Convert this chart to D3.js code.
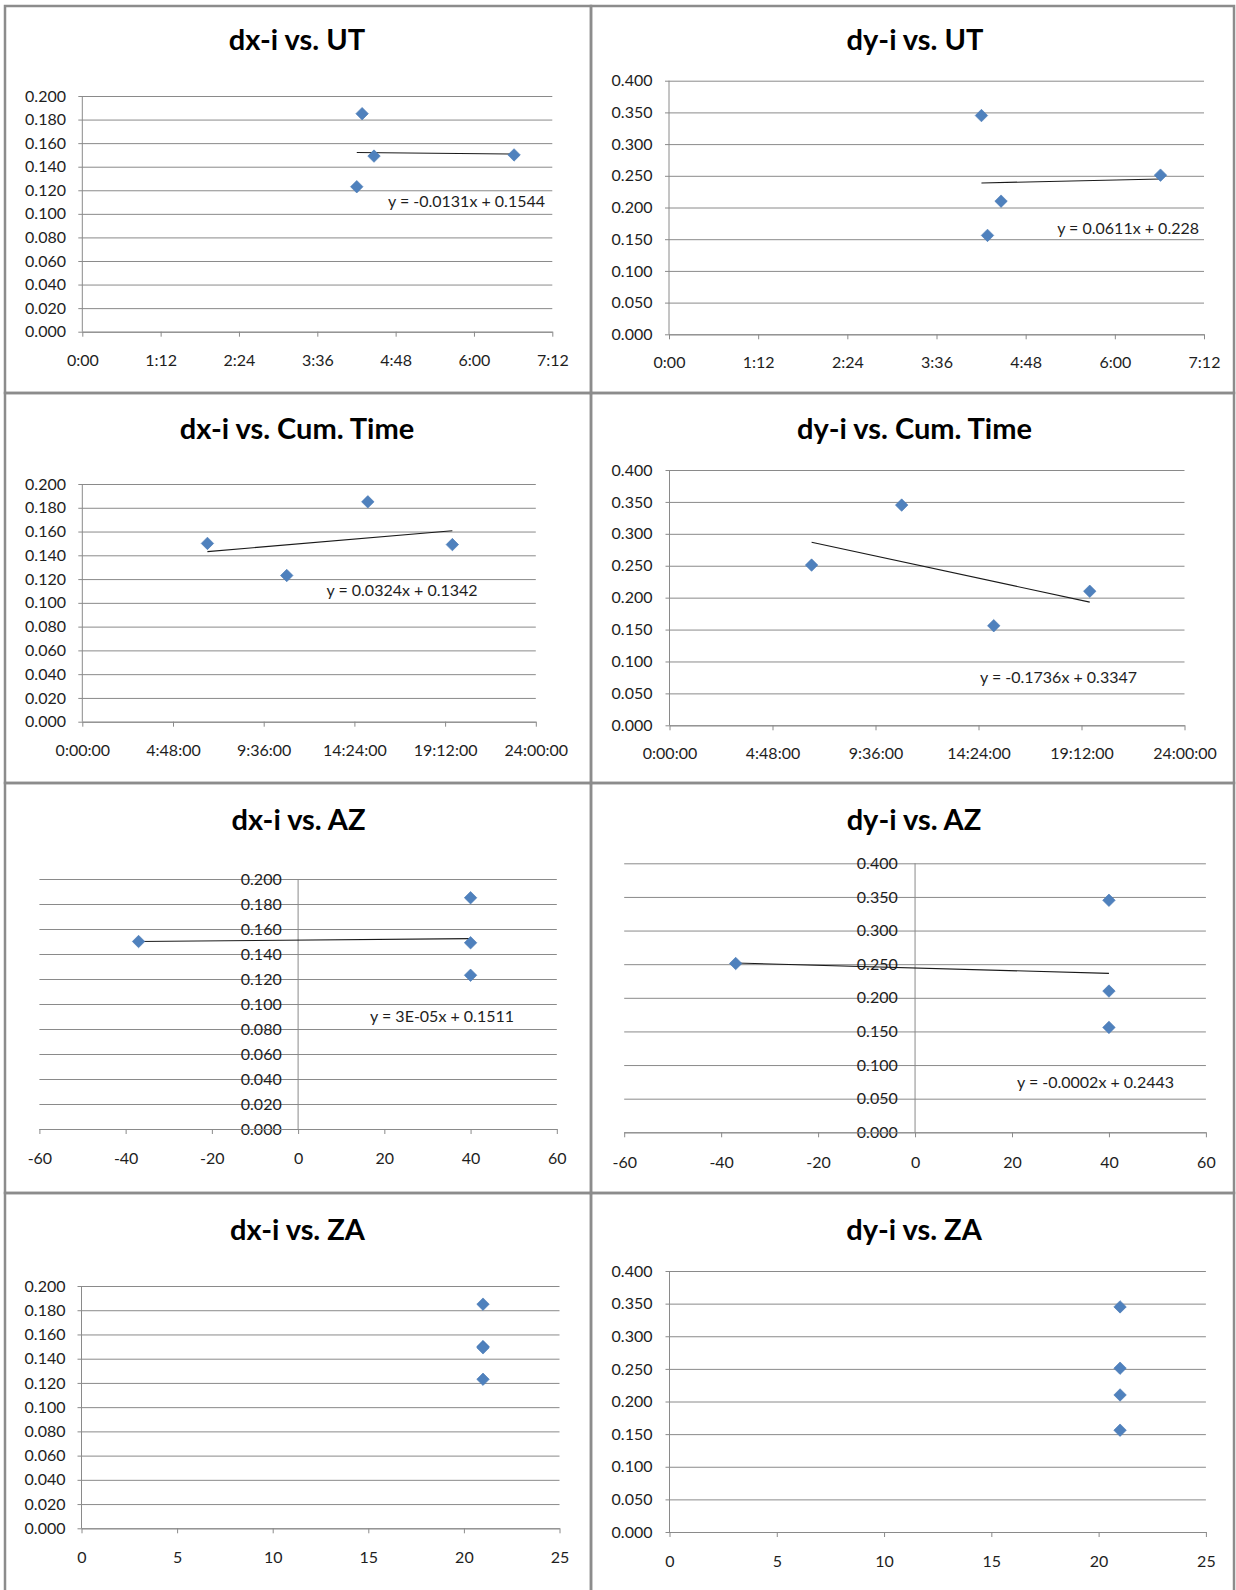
<!DOCTYPE html>
<html>
<head>
<meta charset="utf-8">
<script src="https://cdn.jsdelivr.net/npm/d3@7"></script>
<style>
	body { margin: 0; background: #fff; }
	text { font-family: Lato, "Open Sans", sans-serif; fill: #1e1e1e; }
	.title { font-weight: bold; font-size: 29px; fill: #000; }
	.tick text { font-size: 16px; }
	.eq { font-size: 16px; }
</style>
</head>
<body>
<div id="chart"></div>
<script>

// four observations, same order in every array
var utDays = [0.2756, 0.1752, 0.1786, 0.1862];
var cumDays = [0.2759, 0.4508, 0.6296, 0.8160];
var azDeg = [-37, 40, 40, 40];
var zaDeg = [21, 21, 21, 21];
var dxVals = [0.150, 0.123, 0.185, 0.149];
var dyVals = [0.251, 0.345, 0.156, 0.210];

var utTickValues = [0, 0.05, 0.1, 0.15, 0.2, 0.25, 0.3];
var utTickLabels = ["0:00", "1:12", "2:24", "3:36", "4:48", "6:00", "7:12"];
var cumTickValues = [0, 0.2, 0.4, 0.6, 0.8, 1.0];
var cumTickLabels = ["0:00:00", "4:48:00", "9:36:00", "14:24:00", "19:12:00", "24:00:00"];
var azTickValues = [-60, -40, -20, 0, 20, 40, 60];
var zaTickValues = [0, 5, 10, 15, 20, 25];
var dxTickValues = [0, 0.02, 0.04, 0.06, 0.08, 0.1, 0.12, 0.14, 0.16, 0.18, 0.2];
var dyTickValues = [0, 0.05, 0.1, 0.15, 0.2, 0.25, 0.3, 0.35, 0.4];

var titles = ["dx-i vs. UT", "dy-i vs. UT", "dx-i vs. Cum. Time", "dy-i vs. Cum. Time",
	"dx-i vs. AZ", "dy-i vs. AZ", "dx-i vs. ZA", "dy-i vs. ZA"];
var trendSlopes = [-0.0131, 0.0611, 0.0324, -0.1736, 0.00003, -0.0002, null, null];
var trendIntercepts = [0.1544, 0.228, 0.1342, 0.3347, 0.1511, 0.2443, null, null];
var trendLabels = ["y = -0.0131x + 0.1544", "y = 0.0611x + 0.228", "y = 0.0324x + 0.1342",
	"y = -0.1736x + 0.3347", "y = 3E-05x + 0.1511", "y = -0.0002x + 0.2443", null, null];

// which x / y series each panel uses
var xSets = [
	{vals: utDays, domain: [0, 0.3], ticks: utTickValues, labels: utTickLabels},
	{vals: cumDays, domain: [0, 1], ticks: cumTickValues, labels: cumTickLabels},
	{vals: azDeg, domain: [-60, 60], ticks: azTickValues, labels: null},
	{vals: zaDeg, domain: [0, 25], ticks: zaTickValues, labels: null}
];
var ySets = [
	{vals: dxVals, domain: [0, 0.2], ticks: dxTickValues},
	{vals: dyVals, domain: [0, 0.4], ticks: dyTickValues}
];

// page layout, one box per panel
var layout = [
	{cell: [5, 6, 591, 393], px: [82.3, 552.3], py: [331.7, 96], titleX: 297, titleY: 50, eqX: 545, eqY: 201, labX: 66, xLabY: 360},
	{cell: [591, 6, 1234, 393], px: [669, 1204], py: [334.3, 80.7], titleX: 915, titleY: 50, eqX: 1199, eqY: 228, labX: 652.5, xLabY: 362.5},
	{cell: [5, 393, 591, 783], px: [82.3, 535.8], py: [721.7, 484], titleX: 297, titleY: 439, eqX: 477.6, eqY: 590.7, labX: 66, xLabY: 750},
	{cell: [591, 393, 1234, 783], px: [669.5, 1184.5], py: [725.3, 470], titleX: 914.5, titleY: 439, eqX: 1137, eqY: 677.3, labX: 652.5, xLabY: 753.3},
	{cell: [5, 783, 591, 1193], px: [39.4, 556.8], py: [1129, 879], titleX: 298.5, titleY: 830, eqX: 514, eqY: 1016, labOff: 16.4, xLabY: 1158.3},
	{cell: [591, 783, 1234, 1193], px: [624.2, 1205.9], py: [1132.3, 863.3], titleX: 914, titleY: 830, eqX: 1174, eqY: 1082.3, labOff: 17.3, xLabY: 1162.7},
	{cell: [5, 1193, 591, 1610], px: [81.5, 559.5], py: [1528.3, 1286], titleX: 297.5, titleY: 1240, labX: 65.5, xLabY: 1557.3},
	{cell: [591, 1193, 1234, 1610], px: [669.5, 1205.9], py: [1532, 1271], titleX: 914, titleY: 1240, labX: 652.5, xLabY: 1561.7}
];

var gridColor = "#8a8a8a";
var markerColor = "#4F81BD";

var svg = d3.select('#chart')
	.append('svg')
	.attr('width', 1236)
	.attr('height', 1590);

svg.append('rect')
	.attr('width', 1236)
	.attr('height', 1590)
	.attr('fill', '#fff');

for (var i = 0; i < 8; i++) {
	drawPanel(i, xSets[Math.floor(i / 2)], ySets[i % 2], layout[i]);
}

function drawPanel(i, xs, ys, box) {
	var g = svg.append('g');
	var c = box.cell;

	g.append('rect')
		.attr('x', c[0])
		.attr('y', c[1])
		.attr('width', c[2] - c[0])
		.attr('height', c[3] - c[1])
		.attr('fill', 'none')
		.attr('stroke', '#8c8c8c')
		.attr('stroke-width', 2.5);

	g.append('text')
		.attr('class', 'title')
		.attr('x', box.titleX)
		.attr('y', box.titleY)
		.attr('text-anchor', 'middle')
		.text(titles[i]);

	var x = d3.scaleLinear().domain(xs.domain).range(box.px);
	var y = d3.scaleLinear().domain(ys.domain).range(box.py);

	// y axis sits at x = 0 when the x domain spans zero
	var crossing = xs.domain[0] < 0;
	var yAxisX = crossing ? x(0) : box.px[0];
	var gridStart = crossing ? box.px[0] : box.px[0] - 4;

	// gridlines
	var grid = g.append('g')
		.attr('transform', 'translate(' + gridStart + ',0)')
		.call(d3.axisLeft(y)
			.tickValues(ys.ticks)
			.tickSize(-(box.px[1] - gridStart))
			.tickFormat(''));
	grid.select('.domain').remove();
	grid.selectAll('line').attr('stroke', gridColor).attr('stroke-width', 1);

	// y tick labels
	var labX = crossing ? yAxisX - box.labOff : box.labX;
	var ylab = g.append('g')
		.attr('transform', 'translate(' + labX + ',0)')
		.call(d3.axisLeft(y)
			.tickValues(ys.ticks)
			.tickSize(0)
			.tickPadding(0)
			.tickFormat(d3.format('.3f')));
	ylab.select('.domain').remove();
	ylab.selectAll('text').attr('fill', '#1e1e1e');

	// y axis line
	g.append('line')
		.attr('x1', yAxisX)
		.attr('x2', yAxisX)
		.attr('y1', y(ys.domain[0]))
		.attr('y2', y(ys.domain[1]))
		.attr('stroke', gridColor);

	// x axis
	var xAxis = d3.axisBottom(x)
		.tickValues(xs.ticks)
		.tickSizeInner(5)
		.tickSizeOuter(0)
		.tickFormat(function(d, k) { return xs.labels ? xs.labels[k] : d; });
	var xg = g.append('g')
		.attr('transform', 'translate(0,' + y(0) + ')')
		.call(xAxis);
	xg.select('.domain').attr('stroke', gridColor);
	xg.selectAll('line').attr('stroke', gridColor);
	xg.selectAll('text')
		.attr('y', box.xLabY - y(0))
		.attr('dy', '0.35em')
		.attr('fill', '#1e1e1e');

	// trendline from smallest to largest x
	if (trendSlopes[i] !== null) {
		var ext = d3.extent(xs.vals);
		var line = d3.line()
			.x(function(d) { return x(d); })
			.y(function(d) { return y(trendSlopes[i] * d + trendIntercepts[i]); });
		g.append('path')
			.attr('d', line(ext))
			.attr('fill', 'none')
			.attr('stroke', '#1a1a1a')
			.attr('stroke-width', 1.1);
	}

	// markers
	var diamond = d3.symbol().type(d3.symbolSquare).size(78);
	g.selectAll('.pt')
		.data(xs.vals)
		.enter()
		.append('path')
		.attr('class', 'pt')
		.attr('d', diamond)
		.attr('transform', function(d, k) {
			return 'translate(' + x(d) + ',' + y(ys.vals[k]) + ') rotate(45)';
		})
		.attr('fill', markerColor)
		.attr('stroke', '#4a7ab5')
		.attr('stroke-width', 0.6);

	if (trendLabels[i]) {
		g.append('text')
			.attr('class', 'eq')
			.attr('x', box.eqX)
			.attr('y', box.eqY)
			.attr('dy', '0.35em')
			.attr('text-anchor', 'end')
			.text(trendLabels[i]);
	}
};

</script>
</body>
</html>
